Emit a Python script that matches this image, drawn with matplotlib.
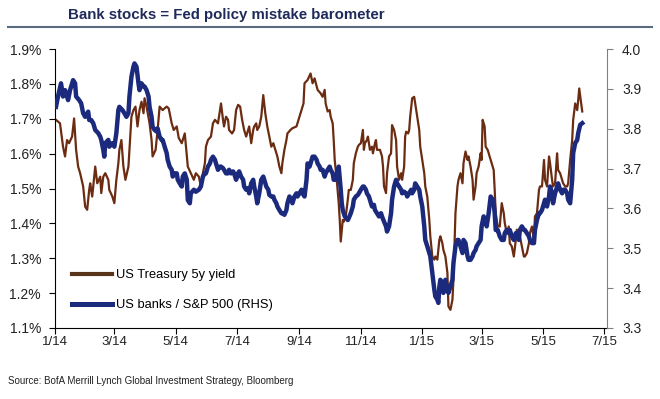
import numpy as np
import matplotlib.pyplot as plt
from matplotlib.lines import Line2D

# days since 1 Jan 2014 and values
yld_day = [1, 5, 8, 10, 12, 14, 17, 19, 21, 23, 25, 28, 30, 32, 34, 35, 37, 40, 42, 45,
           46, 48, 50, 53, 54, 57, 59, 61, 63, 64, 66, 68, 70, 73, 74, 76, 78, 80, 82, 84,
           86, 88, 89, 91, 94, 96, 97, 100, 102, 104, 107, 111, 113, 116, 118, 121, 123, 126, 129, 132,
           135, 138, 140, 143, 145, 147, 149, 150, 152, 155, 157, 159, 162, 164, 165, 167, 168, 170, 172, 173,
           176, 178, 180, 182, 184, 186, 188, 190, 192, 193, 195, 197, 198, 200, 201, 203, 205, 207, 209, 211,
           213, 215, 217, 219, 221, 223, 225, 226, 228, 230, 231, 234, 236, 240, 242, 244, 247, 248, 251, 254,
           256, 258, 261, 264, 266, 268, 269, 271, 273, 274, 276, 277, 278, 280, 282, 283, 284, 286, 287, 289,
           291, 292, 294, 296, 297, 299, 301, 302, 304, 306, 307, 308, 310, 311, 313, 315, 316, 318, 319, 320,
           323, 325, 326, 327, 329, 330, 332, 334, 335, 337, 339, 340, 342, 344, 345, 347, 348, 349, 351, 352,
           353, 355, 357, 358, 360, 362, 363, 365, 367, 368, 370, 372, 373, 375, 377, 378, 380, 382, 383, 385,
           386, 388, 390, 391, 393, 395, 396, 398, 400, 401, 403, 405, 406, 408, 410, 411, 413, 415, 416, 418,
           419, 421, 423, 424, 425, 427, 428, 430, 432, 434, 436, 437, 438, 440, 442, 444, 446, 447, 449, 451,
           452, 454, 456, 458, 459, 461, 462, 464, 466, 467, 469, 471, 472, 474, 476, 477, 479, 481, 482, 484,
           486, 487, 489, 491, 492, 494, 495, 497, 499, 500, 502, 504, 505, 507, 509, 510, 512, 514, 515, 517,
           519, 520, 521, 523, 524]
yld = [1.697, 1.687, 1.620, 1.592, 1.639, 1.630, 1.649, 1.701, 1.611, 1.563, 1.544, 1.506, 1.448, 1.439, 1.496, 1.515, 1.477, 1.563, 1.515, 1.534,
       1.487, 1.534, 1.544, 1.525, 1.496, 1.477, 1.458, 1.525, 1.573, 1.611, 1.639, 1.563, 1.525, 1.563, 1.611, 1.706, 1.725, 1.735, 1.678, 1.725,
       1.749, 1.716, 1.759, 1.735, 1.687, 1.639, 1.592, 1.611, 1.668, 1.735, 1.725, 1.735, 1.730, 1.687, 1.668, 1.678, 1.645, 1.630, 1.658, 1.563,
       1.544, 1.525, 1.544, 1.534, 1.506, 1.544, 1.573, 1.620, 1.639, 1.649, 1.687, 1.697, 1.687, 1.725, 1.744, 1.697, 1.678, 1.706, 1.697, 1.668,
       1.658, 1.668, 1.725, 1.740, 1.735, 1.697, 1.668, 1.649, 1.668, 1.678, 1.630, 1.668, 1.678, 1.687, 1.668, 1.678, 1.706, 1.768, 1.716, 1.678,
       1.649, 1.620, 1.630, 1.611, 1.592, 1.563, 1.544, 1.573, 1.611, 1.639, 1.658, 1.668, 1.673, 1.678, 1.697, 1.716, 1.744, 1.802, 1.811, 1.830,
       1.802, 1.816, 1.783, 1.773, 1.763, 1.783, 1.744, 1.721, 1.725, 1.706, 1.687, 1.639, 1.582, 1.525, 1.458, 1.410, 1.348, 1.410, 1.405, 1.420,
       1.468, 1.496, 1.496, 1.525, 1.573, 1.601, 1.620, 1.625, 1.630, 1.668, 1.611, 1.630, 1.639, 1.649, 1.611, 1.620, 1.601, 1.630, 1.639, 1.611,
       1.611, 1.592, 1.563, 1.506, 1.487, 1.544, 1.592, 1.601, 1.682, 1.668, 1.639, 1.563, 1.525, 1.544, 1.525, 1.563, 1.649, 1.663, 1.658, 1.668,
       1.706, 1.759, 1.763, 1.744, 1.706, 1.668, 1.620, 1.582, 1.544, 1.506, 1.477, 1.410, 1.363, 1.305, 1.296, 1.305, 1.296, 1.353, 1.363, 1.343,
       1.324, 1.305, 1.258, 1.162, 1.152, 1.181, 1.238, 1.429, 1.506, 1.525, 1.544, 1.515, 1.573, 1.606, 1.582, 1.592, 1.563, 1.525, 1.468, 1.506,
       1.544, 1.563, 1.601, 1.582, 1.697, 1.678, 1.620, 1.611, 1.592, 1.573, 1.553, 1.496, 1.429, 1.391, 1.391, 1.458, 1.429, 1.401, 1.372, 1.391,
       1.343, 1.334, 1.305, 1.353, 1.382, 1.353, 1.363, 1.334, 1.305, 1.305, 1.315, 1.343, 1.372, 1.391, 1.353, 1.420, 1.429, 1.496, 1.506, 1.506,
       1.582, 1.525, 1.506, 1.592, 1.573, 1.525, 1.506, 1.515, 1.601, 1.553, 1.544, 1.525, 1.515, 1.506, 1.506, 1.515, 1.582, 1.639, 1.697, 1.744,
       1.725, 1.754, 1.787, 1.744, 1.721]

bank_day = [1, 3, 6, 8, 10, 12, 13, 15, 18, 20, 21, 24, 26, 28, 30, 33, 34, 36, 38, 40,
            43, 45, 46, 48, 49, 50, 53, 54, 57, 59, 61, 63, 64, 67, 69, 71, 73, 74, 76, 78,
            79, 81, 83, 84, 86, 88, 89, 91, 93, 94, 96, 97, 99, 101, 102, 104, 106, 107, 109, 111,
            112, 114, 116, 117, 119, 121, 122, 124, 126, 127, 129, 131, 132, 134, 135, 138, 140, 143, 145, 147,
            149, 150, 152, 154, 155, 157, 159, 160, 162, 164, 165, 167, 168, 170, 172, 173, 175, 177, 178, 180,
            182, 183, 185, 187, 188, 190, 192, 193, 195, 197, 198, 200, 201, 203, 205, 207, 208, 210, 212, 213,
            215, 217, 218, 220, 221, 223, 225, 226, 228, 230, 231, 233, 235, 236, 238, 240, 241, 243, 245, 246,
            248, 250, 251, 253, 254, 256, 258, 260, 261, 263, 264, 266, 268, 269, 271, 273, 274, 276, 277, 279,
            281, 282, 284, 285, 286, 288, 291, 292, 294, 296, 297, 299, 301, 302, 304, 306, 307, 309, 310, 312,
            314, 315, 317, 318, 320, 322, 324, 325, 327, 329, 330, 332, 334, 335, 337, 339, 340, 342, 344, 345,
            347, 349, 350, 352, 354, 355, 357, 358, 360, 362, 363, 365, 367, 368, 370, 372, 373, 375, 377, 378,
            380, 381, 382, 383, 385, 386, 388, 390, 391, 393, 395, 396, 398, 400, 401, 403, 405, 406, 408, 410,
            411, 413, 415, 416, 418, 419, 421, 423, 424, 426, 428, 429, 431, 433, 435, 436, 437, 438, 440, 442,
            444, 446, 447, 449, 451, 452, 454, 456, 458, 459, 461, 462, 464, 466, 467, 469, 471, 472, 474, 476,
            477, 479, 481, 482, 484, 486, 487, 489, 491, 492, 494, 495, 497, 499, 500, 502, 504, 505, 507, 509,
            510, 512, 514, 515, 517, 519, 520, 522, 524]
bank = [3.855, 3.881, 3.914, 3.881, 3.897, 3.881, 3.872, 3.897, 3.922, 3.914, 3.881, 3.872, 3.864, 3.839, 3.830, 3.843, 3.822, 3.822, 3.814, 3.797,
        3.789, 3.780, 3.772, 3.747, 3.730, 3.764, 3.772, 3.755, 3.764, 3.755, 3.789, 3.847, 3.855, 3.847, 3.839, 3.830, 3.839, 3.881, 3.931, 3.956,
        3.964, 3.956, 3.914, 3.897, 3.914, 3.906, 3.906, 3.897, 3.881, 3.855, 3.830, 3.805, 3.797, 3.793, 3.801, 3.780, 3.772, 3.772, 3.755, 3.739,
        3.722, 3.705, 3.697, 3.680, 3.688, 3.688, 3.672, 3.663, 3.655, 3.680, 3.688, 3.672, 3.621, 3.613, 3.638, 3.647, 3.642, 3.647, 3.655, 3.680,
        3.688, 3.688, 3.705, 3.713, 3.722, 3.730, 3.722, 3.713, 3.697, 3.705, 3.705, 3.701, 3.697, 3.688, 3.688, 3.697, 3.688, 3.693, 3.688, 3.672,
        3.688, 3.693, 3.680, 3.672, 3.655, 3.647, 3.651, 3.638, 3.663, 3.672, 3.655, 3.630, 3.613, 3.638, 3.672, 3.680, 3.672, 3.655, 3.647, 3.634,
        3.630, 3.630, 3.622, 3.613, 3.605, 3.596, 3.588, 3.588, 3.584, 3.596, 3.613, 3.630, 3.622, 3.613, 3.630, 3.638, 3.630, 3.638, 3.647, 3.638,
        3.630, 3.672, 3.713, 3.705, 3.713, 3.730, 3.730, 3.722, 3.713, 3.705, 3.697, 3.697, 3.680, 3.688, 3.697, 3.705, 3.697, 3.688, 3.672, 3.672,
        3.697, 3.705, 3.647, 3.613, 3.596, 3.580, 3.571, 3.576, 3.588, 3.605, 3.622, 3.630, 3.634, 3.638, 3.647, 3.655, 3.655, 3.647, 3.638, 3.630,
        3.613, 3.605, 3.609, 3.596, 3.588, 3.580, 3.588, 3.580, 3.567, 3.555, 3.542, 3.555, 3.588, 3.622, 3.655, 3.672, 3.663, 3.655, 3.647, 3.638,
        3.642, 3.638, 3.630, 3.638, 3.647, 3.638, 3.647, 3.663, 3.655, 3.647, 3.630, 3.605, 3.555, 3.521, 3.505, 3.488, 3.480, 3.438, 3.396, 3.379,
        3.371, 3.363, 3.404, 3.421, 3.413, 3.388, 3.421, 3.396, 3.388, 3.404, 3.421, 3.463, 3.505, 3.521, 3.521, 3.505, 3.488, 3.521, 3.513, 3.480,
        3.471, 3.471, 3.480, 3.488, 3.496, 3.505, 3.513, 3.521, 3.555, 3.580, 3.571, 3.555, 3.588, 3.630, 3.622, 3.613, 3.588, 3.546, 3.546, 3.530,
        3.521, 3.521, 3.538, 3.546, 3.538, 3.546, 3.530, 3.521, 3.538, 3.538, 3.521, 3.546, 3.555, 3.546, 3.546, 3.538, 3.530, 3.521, 3.513, 3.513,
        3.546, 3.571, 3.588, 3.588, 3.596, 3.613, 3.622, 3.605, 3.630, 3.655, 3.638, 3.613, 3.638, 3.655, 3.663, 3.647, 3.638, 3.647, 3.647, 3.638,
        3.622, 3.613, 3.672, 3.739, 3.764, 3.772, 3.789, 3.810, 3.814]

xtick_dates = ['2014-01-01', '2014-03-01', '2014-05-01', '2014-07-01', '2014-09-01',
               '2014-11-01', '2015-01-01', '2015-03-01', '2015-05-01', '2015-07-01']
xtick_labels = ['1/14', '3/14', '5/14', '7/14', '9/14', '11/14', '1/15', '3/15', '5/15', '7/15']
left_ticks = [1.1, 1.2, 1.3, 1.4, 1.5, 1.6, 1.7, 1.8, 1.9]
right_ticks = [3.3, 3.4, 3.5, 3.6, 3.7, 3.8, 3.9, 4.0]

brown = '#6B2C12'
navy = '#1C2A7E'
plt.rcParams['font.family'] = ['Liberation Sans', 'DejaVu Sans']

start = np.datetime64('2014-01-01')
yld_x = start + np.array(yld_day).astype('timedelta64[D]')
bank_x = start + np.array(bank_day).astype('timedelta64[D]')

fig = plt.figure(figsize=(6.6, 3.99), dpi=100)
ax = fig.add_axes([0.0833, 0.178, 0.837, 0.699])
ax2 = ax.twinx()

ax.plot(yld_x, yld, color=brown, lw=1.6)
ax2.plot(bank_x, bank, color=navy, lw=3.2, solid_joinstyle='round')

ax.set_xlim(start, start + np.timedelta64(549, 'D'))
ax.set_ylim(1.1, 1.9)
ax2.set_ylim(3.3, 4.0)

ax.set_xticks(np.array(xtick_dates, dtype='datetime64[D]'))
ax.set_xticklabels(xtick_labels)
ax.set_yticks(left_ticks)
ax.set_yticklabels(['%.1f%%' % v for v in left_ticks])
ax2.set_yticks(right_ticks)
ax2.set_yticklabels(['%.1f' % v for v in right_ticks])

for a in (ax, ax2):
    a.spines['top'].set_visible(False)
ax2.spines['left'].set_visible(False)
ax2.spines['bottom'].set_visible(False)
ax.spines['right'].set_visible(False)
ax2.spines['right'].set_color('#808080')
ax.tick_params(axis='both', labelsize=10, length=4, color='black', labelcolor='#222222')
ax.tick_params(axis='x', labelsize=9.5, pad=2)
ax.tick_params(axis='y', pad=6)
ax2.tick_params(axis='y', labelsize=10, length=4, color='#808080', labelcolor='#222222', pad=6.5)

handles = [Line2D([], [], color='#58341A', lw=3.0),
           Line2D([], [], color=navy, lw=3.6)]
ax.legend(handles, ['US Treasury 5y yield', 'US banks / S&P 500 (RHS)'],
          loc='lower left', bbox_to_anchor=(0.03, 0.06), frameon=False,
          fontsize=9.3, handlelength=3.1, handletextpad=0.35, labelspacing=1.4,
          borderpad=0, borderaxespad=0)

fig.text(0.103, 0.962, 'Bank stocks = Fed policy mistake barometer', fontsize=10.8,
         fontweight='bold', color='#1F2A5A', ha='left', va='center')
fig.add_artist(Line2D([0.012, 0.988], [0.932, 0.932], color='#5A6A80', lw=1.5))
fig.text(0.012, 0.045, 'Source: BofA Merrill Lynch Global Investment Strategy, Bloomberg',
         fontsize=7, color='#222222', ha='left', va='center',
         family=['Liberation Sans Narrow', 'Liberation Sans', 'DejaVu Sans'])

fig.savefig('out.png', dpi=100)
